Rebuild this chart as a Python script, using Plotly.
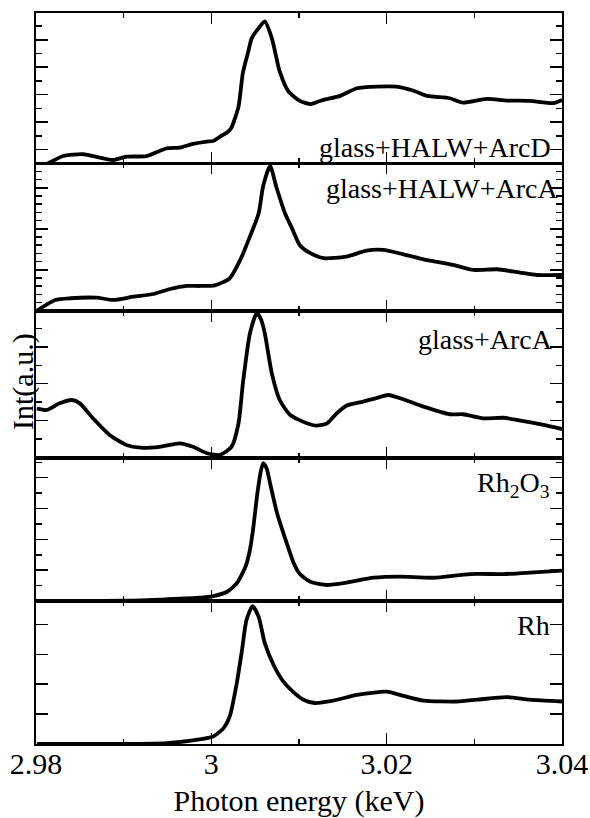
import plotly.graph_objects as go

# ---------------- data ----------------
labels = ["glass+HALW+ArcD", "glass+HALW+ArcA", "glass+ArcA",
          "Rh<sub>2</sub>O<sub>3</sub>", "Rh"]

e_arcd = [2.9805, 2.9814, 2.9831, 2.9854, 2.9865, 2.9888, 2.9903, 2.9926, 2.9949, 2.9964,
          2.9979, 2.9995, 3.0002, 3.0010, 3.0019, 3.0023, 3.0031, 3.0036, 3.0042, 3.0046,
          3.0054, 3.0061, 3.0069, 3.0078, 3.0088, 3.0101, 3.0113, 3.0122, 3.0128, 3.0147,
          3.0166, 3.0189, 3.0211, 3.0230, 3.0246, 3.0272, 3.0287, 3.0314, 3.0337, 3.0363,
          3.0390, 3.0400]
i_arcd = [-0.3, 0.0, 0.53, 0.66, 0.53, 0.24, 0.48, 0.53, 1.09, 1.14,
          1.41, 1.58, 1.62, 1.94, 2.3, 2.6, 4.13, 6.6, 8.1, 9.1,
          9.85, 10.34, 9.12, 6.69, 5.23, 4.55, 4.31, 4.5, 4.62, 4.91,
          5.47, 5.59, 5.59, 5.30, 4.91, 4.74, 4.42, 4.69, 4.57, 4.55,
          4.38, 4.62]

e_arca_h = [2.9801, 2.9822, 2.9839, 2.9869, 2.9888, 2.9911, 2.9934, 2.9953, 2.9972, 2.9987,
            3.0004, 3.0021, 3.0033, 3.0044, 3.0054, 3.0059, 3.0067, 3.0074, 3.0084, 3.0092,
            3.0101, 3.0113, 3.0128, 3.0154, 3.0177, 3.0196, 3.0219, 3.0242, 3.0276, 3.0299,
            3.0326, 3.0352, 3.0371, 3.0400]
i_arca_h = [0.0, 1.31, 1.52, 1.59, 1.31, 1.71, 2.04, 2.65, 3.02, 3.02,
            3.1, 3.96, 6.2, 9.05, 11.9, 15.16, 17.69, 15.16, 11.9, 10.07,
            8.0, 7.02, 6.41, 6.6, 7.33, 7.42, 6.89, 6.28, 5.59, 4.98,
            5.06, 4.65, 4.36, 4.36]

e_arca = [2.9801, 2.9812, 2.9827, 2.9841, 2.9850, 2.9865, 2.9884, 2.9903, 2.9919, 2.9941,
          2.9964, 2.9979, 2.9995, 3.0010, 3.0023, 3.0031, 3.0036, 3.0044, 3.0052, 3.0057,
          3.0061, 3.0069, 3.0078, 3.0090, 3.0109, 3.0120, 3.0132, 3.0143, 3.0154, 3.0173,
          3.0189, 3.0202, 3.0219, 3.0242, 3.0272, 3.0287, 3.0310, 3.0333, 3.0356, 3.0379,
          3.0400]
i_arca = [2.67, 2.58, 2.94, 3.12, 2.94, 2.13, 1.23, 0.69, 0.54, 0.59,
          0.78, 0.59, 0.24, 0.15, 0.59, 1.86, 4.02, 6.72, 7.84, 7.44,
          6.72, 4.56, 3.12, 2.31, 1.86, 1.73, 1.86, 2.40, 2.81, 3.03,
          3.24, 3.39, 3.16, 2.76, 2.35, 2.35, 2.13, 2.16, 1.98, 1.77,
          1.55]

e_rh2o3 = [2.9801, 2.9900, 2.9949, 2.9987, 3.0002, 3.0018, 3.0029, 3.0039, 3.0044, 3.0048,
           3.0052, 3.0056, 3.0059, 3.0063, 3.0067, 3.0075, 3.0086, 3.0094, 3.0101, 3.0113,
           3.0132, 3.0154, 3.0185, 3.0215, 3.0253, 3.0295, 3.0333, 3.0363, 3.0400]
i_rh2o3 = [0.0, 0.02, 0.11, 0.21, 0.32, 0.6, 1.15, 2.23, 3.31, 4.82,
           6.77, 8.29, 8.94, 8.62, 7.64, 5.69, 3.75, 2.45, 1.75, 1.25,
           1.04, 1.19, 1.51, 1.58, 1.51, 1.75, 1.75, 1.84, 1.97]

e_rh = [2.9801, 2.9900, 2.9949, 2.9979, 3.0002, 3.0014, 3.0021, 3.0029, 3.0035, 3.0040,
        3.0047, 3.0054, 3.0061, 3.0071, 3.0082, 3.0093, 3.0105, 3.0118, 3.0139, 3.0166,
        3.0200, 3.0219, 3.0242, 3.0280, 3.0303, 3.0337, 3.0363, 3.0400]
i_rh = [0.0, 0.0, 0.03, 0.12, 0.25, 0.53, 0.92, 2.03, 3.14, 4.14,
        4.61, 4.25, 3.37, 2.64, 2.09, 1.75, 1.48, 1.37, 1.45, 1.64,
        1.75, 1.61, 1.45, 1.42, 1.48, 1.57, 1.48, 1.42]

series_e = [e_arcd, e_arca_h, e_arca, e_rh2o3, e_rh]
series_i = [i_arcd, i_arca_h, i_arca, i_rh2o3, i_rh]

x_range = [2.98, 3.04]
x_tickvals = [2.98, 3.00, 3.02, 3.04]
x_ticktext = ["2.98", "3", "3.02", "3.04"]

# per-panel y scales (arbitrary units, top to bottom)
y_ranges = [[0, 10.95], [0, 18.0], [0, 7.95], [0, 9.3], [0, 4.78]]
y_major = [(1, 2), (0, 5), (0, 2), (0, 2), (0, 1)]
y_minor = [1, 1, 1, 1, None]

# ---------------- layout ----------------
W, H = 590, 818
top_px, bot_px = 13, 744
panel_px = [13, 163.3, 310.7, 457.7, 601, 744]
plot_h = bot_px - top_px


def frac(ypx):
    return (bot_px - ypx) / plot_h


FONT = "Liberation Serif"
fig = go.Figure()
layout = dict(
    width=W, height=H,
    margin=dict(l=36, r=28, t=top_px, b=H - bot_px, pad=0, autoexpand=False),
    paper_bgcolor="white", plot_bgcolor="white",
    showlegend=False,
    font=dict(family=FONT, color="black", size=30),
)

for k in range(5):
    n = "" if k == 0 else str(k + 1)
    fig.add_trace(go.Scatter(
        x=series_e[k], y=series_i[k], mode="lines",
        line=dict(color="black", width=3.8, shape="spline", smoothing=0.6),
        xaxis="x" + n, yaxis="y" + n, cliponaxis=True,
    ))
    dom = [frac(panel_px[k + 1]), frac(panel_px[k])]
    xa = dict(
        range=x_range, domain=[0, 1], anchor="y" + n, automargin=False,
        showline=True, linecolor="black", linewidth=1.8, mirror="ticks",
        ticks="inside", ticklen=11, tickwidth=1.5, tickcolor="black",
        tickmode="array", tickvals=x_tickvals, ticktext=x_ticktext,
        minor=dict(dtick=0.01, tick0=2.98, ticks="inside", ticklen=5,
                   tickwidth=1.5, tickcolor="black"),
        showgrid=False, zeroline=False,
        showticklabels=(k == 4), ticklabelstandoff=-8,
        tickfont=dict(family=FONT, size=30, color="black"),
    )
    if k != 0:
        xa["matches"] = "x"
    if k == 4:
        xa["title"] = dict(text="Photon energy (keV)",
                           font=dict(family=FONT, size=30, color="black"),
                           standoff=17)
    t0, dt = y_major[k]
    ya = dict(
        range=y_ranges[k], domain=dom, anchor="x" + n, automargin=False,
        showline=True, linecolor="black", linewidth=1.8, mirror="ticks",
        ticks="inside", ticklen=12, tickwidth=1.5, tickcolor="black",
        tick0=t0, dtick=dt, showticklabels=False,
        showgrid=False, zeroline=False, fixedrange=True,
    )
    if y_minor[k]:
        ya["minor"] = dict(dtick=y_minor[k], tick0=0, ticks="inside", ticklen=6,
                           tickwidth=1.5, tickcolor="black")
    layout["xaxis" + n] = xa
    layout["yaxis" + n] = ya

# curve labels (right-aligned, inside each panel)
label_right_px = [553, 560, 555, 552, 552]
label_mid_px = [147, 188.5, 339, 484, 625.5]
annotations = []
for k in range(5):
    annotations.append(dict(
        text=labels[k], xref="paper", yref="paper",
        x=(label_right_px[k] - 36) / 526, y=frac(label_mid_px[k]),
        xanchor="right", yanchor="middle", showarrow=False,
        font=dict(family=FONT, size=28, color="black"),
    ))
annotations.append(dict(
    text="Int(a.u.)", xref="paper", yref="paper",
    x=(23 - 36) / 526, y=frac(382), xanchor="center", yanchor="middle",
    textangle=-90, showarrow=False,
    font=dict(family=FONT, size=30, color="black"),
))
layout["annotations"] = annotations

fig.update_layout(**layout)
fig.write_html("out.html",
               config={"displayModeBar": False, "staticPlot": True},
               post_script="document.body.style.margin='0';")
